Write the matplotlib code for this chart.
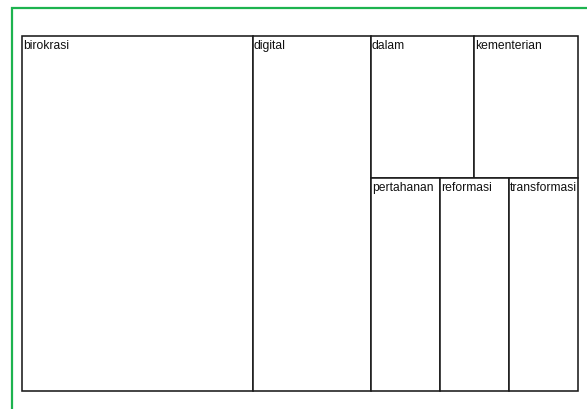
import matplotlib
matplotlib.use("Agg")
import matplotlib.pyplot as plt
from matplotlib.patches import Rectangle

# Word-frequency values (treemap areas)
words = ["birokrasi", "digital", "dalam", "kementerian",
         "pertahanan", "reformasi", "transformasi"]
counts = [39, 20, 7, 7, 7, 7, 7]

# Layout structure: columns -> rows -> cells (by word index)
columns = [[[0]], [[1]], [[2, 3], [4, 5, 6]]]

val = dict(zip(range(len(words)), counts))
total = sum(counts)

fig = plt.figure(figsize=(5.87, 4.10), dpi=100)
ax = fig.add_axes([22 / 587, 1 - 392 / 410, 556 / 587, 355 / 410])
ax.set_xlim(0, 1)
ax.set_ylim(0, 1)
ax.axis("off")

font = ["Liberation Sans", "DejaVu Sans"]

x = 0.0
for col in columns:
    col_sum = sum(val[i] for row in col for i in row)
    w = col_sum / total
    y_top = 1.0
    for row in col:
        row_sum = sum(val[i] for i in row)
        h = row_sum / col_sum
        cx = x
        for i in row:
            cw = w * val[i] / row_sum
            ax.add_patch(Rectangle((cx, y_top - h), cw, h, facecolor="white",
                                   edgecolor="#1a1a1a", linewidth=1.15,
                                   clip_on=False))
            ax.annotate(words[i], (cx, y_top), xytext=(0.6, -2.4),
                        textcoords="offset points", ha="left", va="top",
                        fontsize=8.7, family=font, color="#111111")
            cx += cw
        y_top -= h
    x += w

# green frame (partly outside the canvas)
fig.add_artist(Rectangle((12 / 587, -0.1), 1.2, 1.1 - 9 / 410,
                         transform=fig.transFigure, fill=False,
                         edgecolor="#1db34f", linewidth=1.6))

fig.savefig("out.png", dpi=100)
